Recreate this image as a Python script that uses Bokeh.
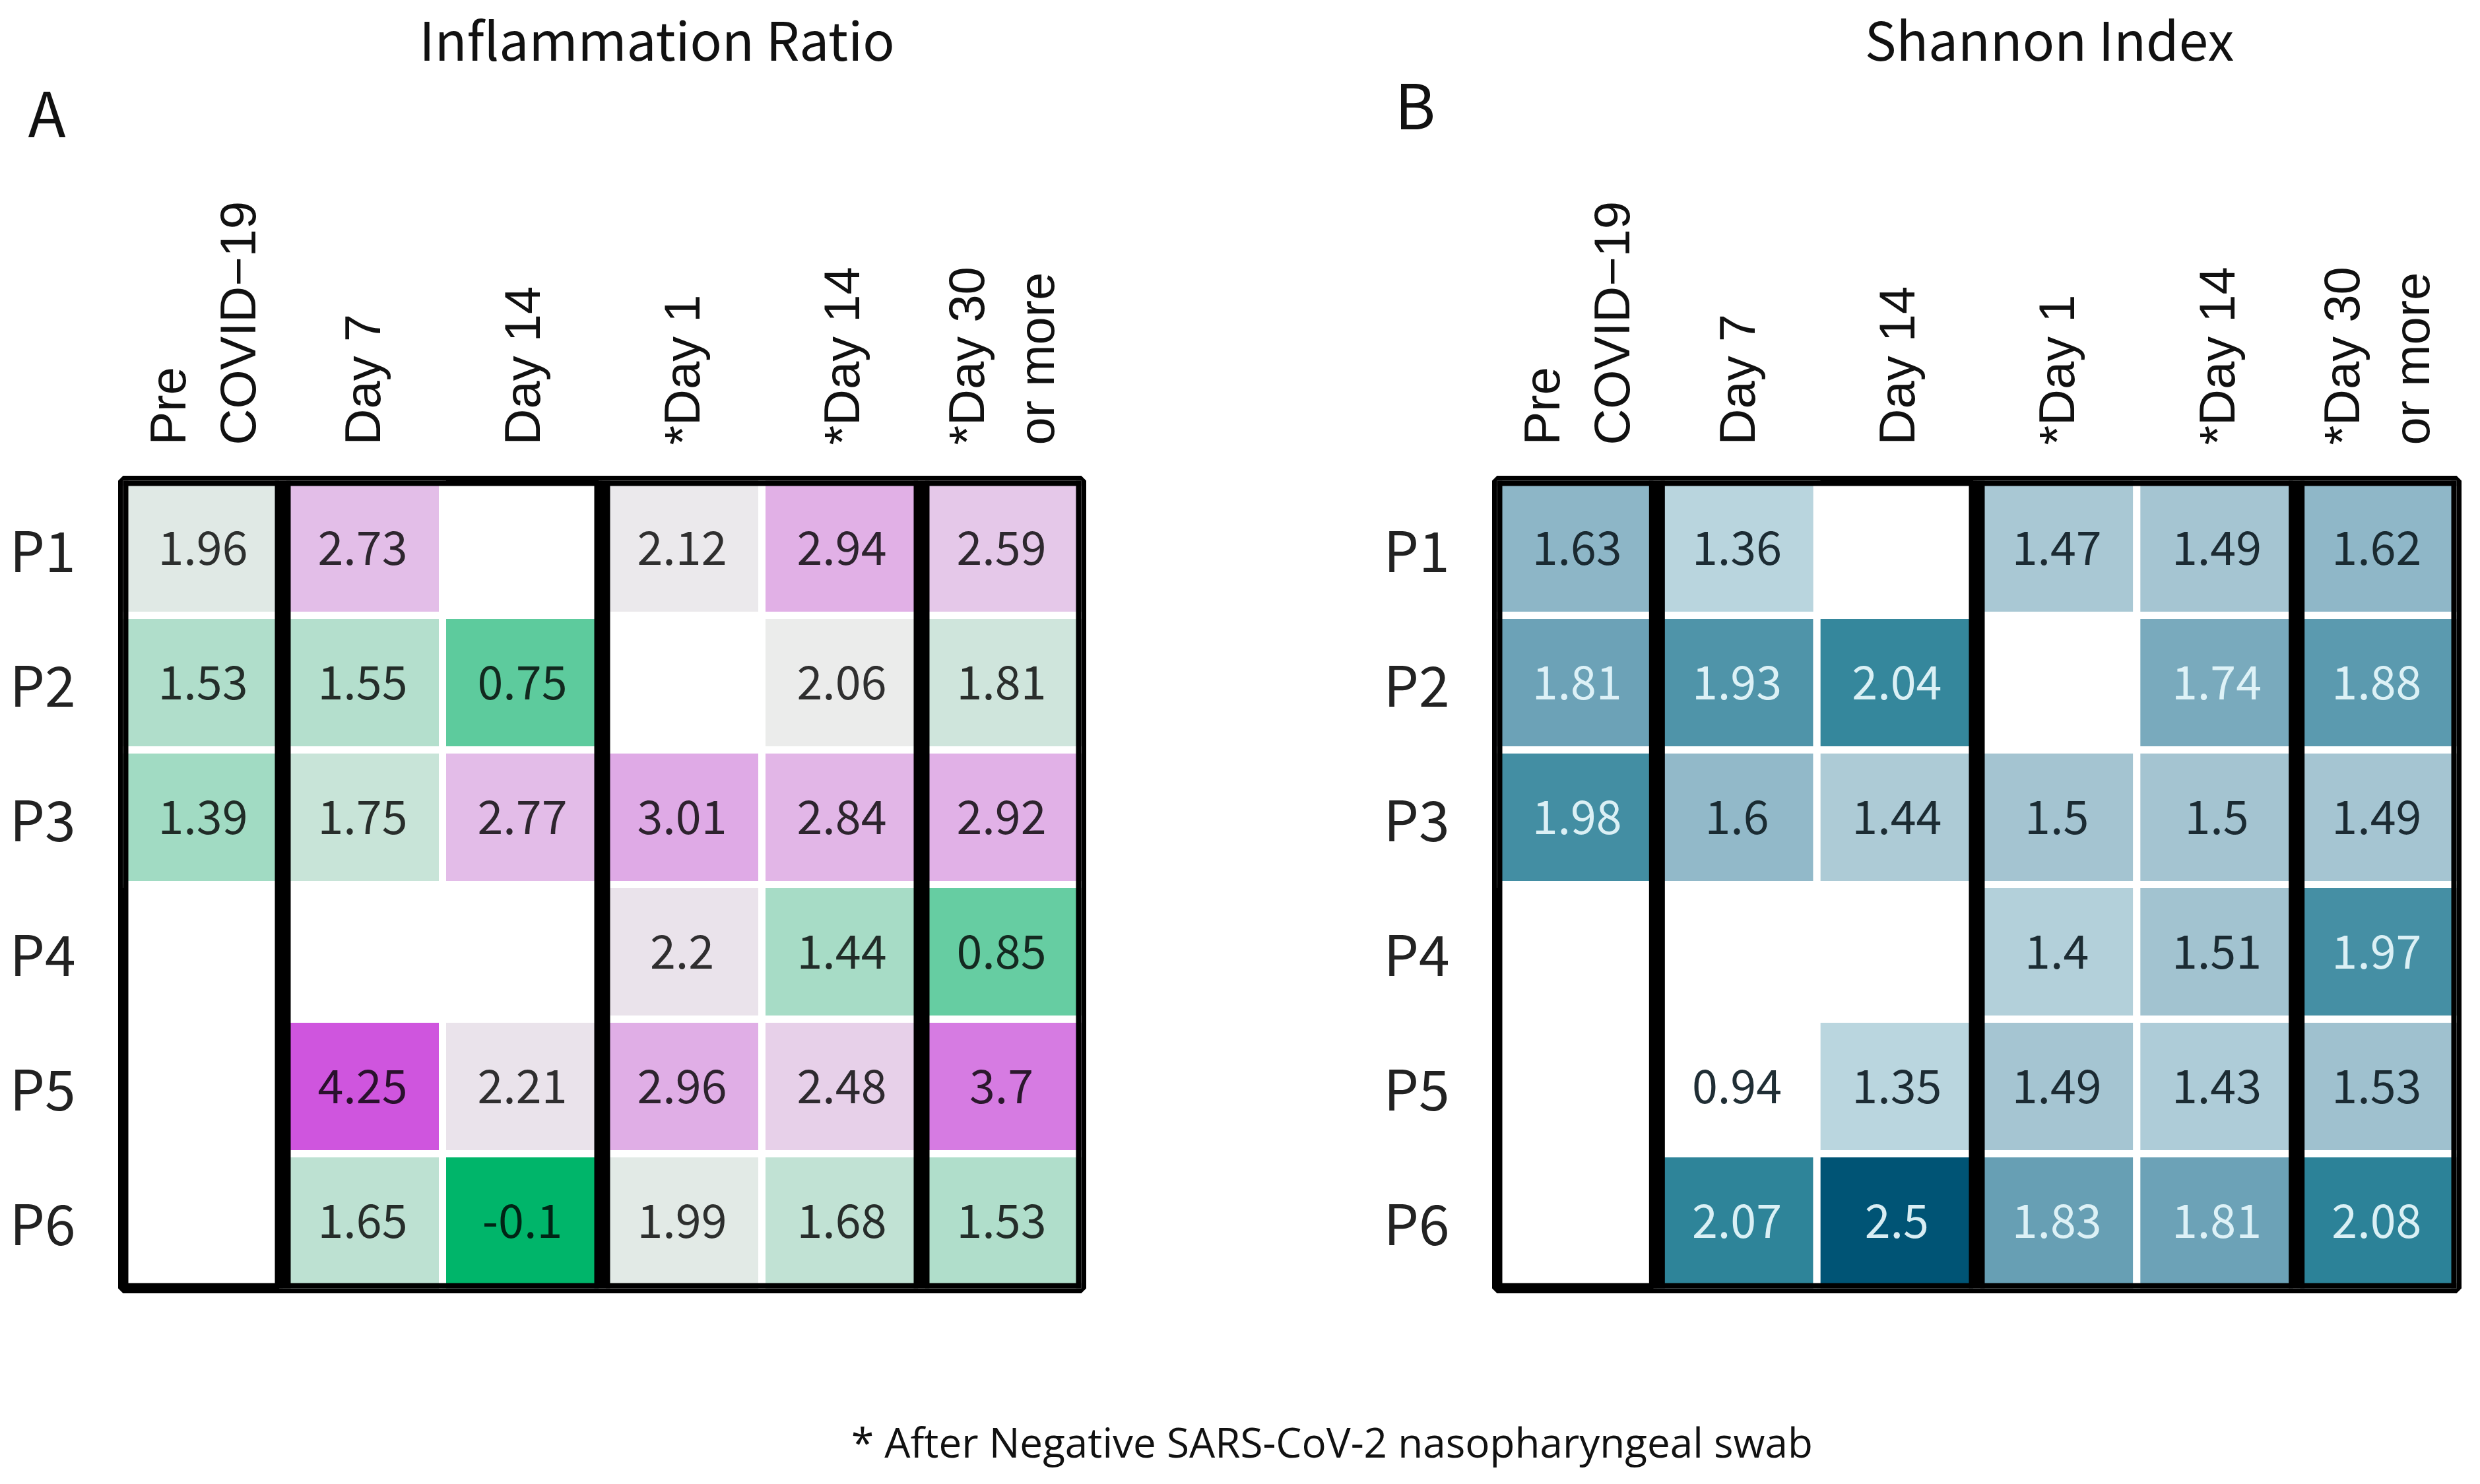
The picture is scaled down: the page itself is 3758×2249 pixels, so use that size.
import numpy as np
from bokeh.plotting import figure
from bokeh.models import ColumnDataSource, LinearColorMapper, FactorRange, Span, Label, Range1d
from bokeh.layouts import row, column
from bokeh.transform import transform
from bokeh.core.properties import value
from bokeh.embed import file_html
from bokeh.resources import INLINE

# ---------------- data ----------------
patients = ["P1", "P2", "P3", "P4", "P5", "P6"]
timepoints = ["Pre\nCOVID\u221219", "Day 7", "Day 14", "*Day 1", "*Day 14", "*Day 30\nor more"]
timepoint_groups = ["pre", "acute", "acute", "post", "post", "late"]

# Inflammation Ratio (None = no sample)
ir_p1 = [1.96, 2.73, None, 2.12, 2.94, 2.59]
ir_p2 = [1.53, 1.55, 0.75, None, 2.06, 1.81]
ir_p3 = [1.39, 1.75, 2.77, 3.01, 2.84, 2.92]
ir_p4 = [None, None, None, 2.2, 1.44, 0.85]
ir_p5 = [None, 4.25, 2.21, 2.96, 2.48, 3.7]
ir_p6 = [None, 1.65, -0.1, 1.99, 1.68, 1.53]

# Shannon Index
sh_p1 = [1.63, 1.36, None, 1.47, 1.49, 1.62]
sh_p2 = [1.81, 1.93, 2.04, None, 1.74, 1.88]
sh_p3 = [1.98, 1.6, 1.44, 1.5, 1.5, 1.49]
sh_p4 = [None, None, None, 1.4, 1.51, 1.97]
sh_p5 = [None, 0.94, 1.35, 1.49, 1.43, 1.53]
sh_p6 = [None, 2.07, 2.5, 1.83, 1.81, 2.08]

panel_titles = ["Inflammation Ratio", "Shannon Index"]
panel_letters = ["A", "B"]
footnote = "* After Negative SARS-CoV-2 nasopharyngeal swab"

# ---------------- style ----------------
PAGE_W = 3740
HEAD_H = 260
TOP_H = 1782
FOOT_H = 190
FIG_W = 1870
FRAME_TOP = 468
FRAME_H = 1224
CELL_FONT = "Noto Sans CJK JP"
LABEL_FONT = "Noto Sans CJK JP"
COL_FONT = "Liberation Sans"


def make_palette(stops, n=256):
    fr = np.array([s[0] for s in stops])
    cols = np.array([[int(s[1][i:i + 2], 16) for i in (1, 3, 5)] for s in stops], dtype=float)
    out = []
    for tt in np.linspace(0, 1, n):
        rgb = [np.interp(tt, fr, cols[:, k]) for k in range(3)]
        out.append("#%02x%02x%02x" % tuple(int(round(c)) for c in rgb))
    return out


pal_ir = make_palette([(0.0, "#00b56a"), (0.5, "#ececec"), (1.0, "#cf55de")])
pal_sh = make_palette([(0.0, "#ffffff"), (0.263, "#bad6df"), (0.359, "#a4c4d1"),
                       (0.442, "#8db6c7"), (0.558, "#6ca2b7"), (0.724, "#2e8499"),
                       (1.0, "#005475")])


def build_source(rows_values, text_color_fn):
    xs, ys, vs, labels, tcs = [], [], [], [], []
    for pid, vals in zip(patients, rows_values):
        for tp, v in zip(timepoints, vals):
            if v is None:
                continue
            xs.append(tp)
            ys.append(pid)
            vs.append(v)
            labels.append(str(v))
            tcs.append(text_color_fn(v))
    return ColumnDataSource(dict(x=xs, y=ys, v=vs, label=labels, tc=tcs))


def blank_figure(w, h):
    f = figure(width=w, height=h, x_range=Range1d(0, w), y_range=Range1d(h, 0),
               output_backend="svg", toolbar_location=None,
               min_border_left=0, min_border_right=0, min_border_top=0, min_border_bottom=0)
    f.axis.visible = False
    f.grid.visible = False
    f.outline_line_color = None
    f.background_fill_color = "white"
    f.border_fill_color = "white"
    return f


def panel(rows_values, palette, text_color_fn, text_alpha, min_left, min_right):
    src = build_source(rows_values, text_color_fn)
    allv = src.data["v"]
    mapper = LinearColorMapper(palette=palette, low=min(allv), high=max(allv))
    p = figure(width=FIG_W, height=TOP_H,
               x_range=FactorRange(factors=timepoints),
               y_range=FactorRange(factors=list(reversed(patients))),
               x_axis_location="above", output_backend="svg", toolbar_location=None,
               min_border_left=min_left, min_border_right=min_right,
               min_border_top=FRAME_TOP, min_border_bottom=TOP_H - FRAME_TOP - FRAME_H)
    p.grid.visible = False
    p.background_fill_color = "white"
    p.border_fill_color = "white"
    p.outline_line_color = "black"
    p.outline_line_width = 15

    p.rect(x="x", y="y", width=1, height=1, source=src,
           fill_color=transform("v", mapper), line_color="white", line_width=11)
    p.text(x="x", y="y", text="label", source=src, text_align="center", text_baseline="middle",
           text_font=value(CELL_FONT), text_font_size=value("70px"),
           text_color="tc", text_alpha=text_alpha)

    n = len(timepoints)
    bounds = [i for i in range(1, n) if timepoint_groups[i] != timepoint_groups[i - 1]]
    for b in bounds:
        p.add_layout(Span(location=b, dimension="height", line_color="black", line_width=24))
    for b in (0, n):
        p.add_layout(Span(location=b, dimension="height", line_color="black", line_width=16))
    for b in (0, len(patients)):
        p.add_layout(Span(location=b, dimension="width", line_color="black", line_width=16))

    for ax in (p.xaxis, p.yaxis):
        ax.axis_line_color = None
        ax.major_tick_line_color = None
        ax.minor_tick_line_color = None
        ax.major_tick_out = 0
        ax.major_tick_in = 0
    p.xaxis.major_label_orientation = "vertical"
    p.xaxis.major_label_text_font = COL_FONT
    p.xaxis.major_label_text_font_size = "76px"
    p.xaxis.major_label_text_color = "#111111"
    p.xaxis.major_label_standoff = 54
    p.xaxis.major_label_text_line_height = 1.25
    p.yaxis.major_label_text_font = LABEL_FONT
    p.yaxis.major_label_text_font_size = "84px"
    p.yaxis.major_label_text_color = "#222222"
    p.yaxis.major_label_standoff = 72
    return p


dark_text = lambda v: "#000000"
sh_text = lambda v: "#e4f5fa" if v > 1.7 else "#14232a"

pA = panel([ir_p1, ir_p2, ir_p3, ir_p4, ir_p5, ir_p6], pal_ir, dark_text, 0.8, 186, 232)
pB = panel([sh_p1, sh_p2, sh_p3, sh_p4, sh_p5, sh_p6], pal_sh, sh_text, 0.95, 398, 18)

# header with panel titles and letters
pH = blank_figure(PAGE_W, HEAD_H)
title_pos = [(995, 56), (3105, 56)]
letter_pos = [(42, 166), (2113, 154)]
for t, (tx, ty) in zip(panel_titles, title_pos):
    pH.add_layout(Label(x=tx, y=ty, text=t, text_font=LABEL_FONT, text_font_size="80px",
                        text_color="#111111", text_align="center", text_baseline="alphabetic"))
for t, (tx, ty) in zip(panel_letters, letter_pos):
    pH.add_layout(Label(x=tx, y=ty, text=t, text_font=LABEL_FONT, text_font_size="94px",
                        text_color="#111111", text_align="left", text_baseline="alphabetic"))

# footer with the footnote
pF = blank_figure(PAGE_W, FOOT_H)
pF.add_layout(Label(x=2018, y=142, text=footnote, text_font="Open Sans",
                    text_font_size="62px", text_color="#111111",
                    text_align="center", text_baseline="alphabetic"))

layout = column(pH, row(pA, pB), pF)
open("out.html", "w").write(file_html(layout, INLINE))
